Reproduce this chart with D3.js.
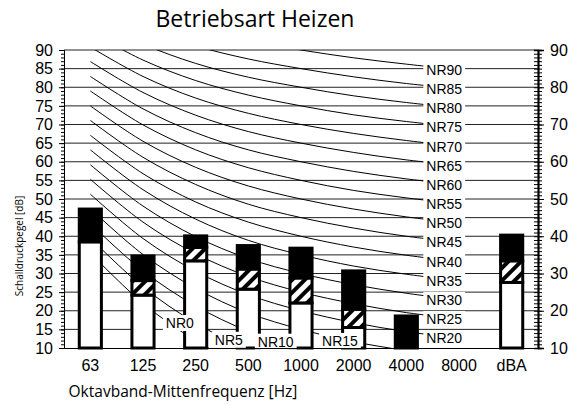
<!DOCTYPE html>
<html>
<head>
<meta charset="utf-8">
<script src="https://cdn.jsdelivr.net/npm/d3@7"></script>
<style>
  body { margin: 0; background: #fff; }
</style>
</head>
<body>
<svg width="573" height="405"></svg>
<script>
// octave bands
var categories = ["63", "125", "250", "500", "1000", "2000", "4000", "8000", "dBA"];

// bar levels in dB (white top, hatched top, black top)
var lowerLevel = [38.5, 24.2, 33.4, 25.8, 22.1, 15.5, 10, 10, 27.6];
var midLevel   = [38.5, 28.1, 37.0, 31.2, 28.8, 20.4, 10, 10, 33.4];
var upperLevel = [47.3, 34.7, 40.1, 37.5, 36.8, 30.7, 18.6, 10, 40.3];

// NR curves, 63 Hz .. 8000 Hz
var nrNames = ["NR0", "NR5", "NR10", "NR15", "NR20", "NR25", "NR30", "NR35", "NR40",
               "NR45", "NR50", "NR55", "NR60", "NR65", "NR70", "NR75", "NR80", "NR85", "NR90"];
var nrLevels = [
  [35.5, 22.0, 12.0, 4.8, 0, -3.5, -6.1, -8.0],
  [39.5, 26.4, 16.7, 9.7, 5, 1.6, -1.0, -2.9],
  [43.4, 30.7, 21.3, 14.5, 10, 6.7, 4.2, 2.3],
  [47.4, 35.1, 26.0, 19.4, 15, 11.7, 9.3, 7.5],
  [51.3, 39.4, 30.6, 24.3, 20, 16.8, 14.4, 12.6],
  [55.3, 43.8, 35.3, 29.2, 25, 21.9, 19.5, 17.8],
  [59.2, 48.1, 39.9, 34.0, 30, 27.0, 24.7, 22.9],
  [63.2, 52.5, 44.6, 38.9, 35, 32.0, 29.8, 28.1],
  [67.1, 56.8, 49.2, 43.8, 40, 37.1, 34.9, 33.2],
  [71.1, 61.2, 53.9, 48.6, 45, 42.2, 40.0, 38.4],
  [75.0, 65.5, 58.5, 53.5, 50, 47.3, 45.2, 43.5],
  [79.0, 69.9, 63.2, 58.4, 55, 52.3, 50.3, 48.7],
  [82.9, 74.2, 67.8, 63.2, 60, 57.4, 55.4, 53.8],
  [86.9, 78.6, 72.5, 68.1, 65, 62.5, 60.5, 59.0],
  [90.8, 82.9, 77.1, 73.0, 70, 67.6, 65.7, 64.1],
  [94.8, 87.3, 81.8, 77.9, 75, 72.6, 70.8, 69.3],
  [98.7, 91.6, 86.4, 82.7, 80, 77.7, 75.9, 74.4],
  [102.7, 96.0, 91.1, 87.6, 85, 82.8, 81.0, 79.6],
  [106.6, 100.3, 95.7, 92.5, 90, 87.9, 86.2, 84.7]
];
// where the labels sit: band index, and level (null = curve level at 8000 Hz)
var nrLabelBand  = [1.70, 2.63, 3.52, 4.74, 6.72, 6.72, 6.72, 6.72, 6.72, 6.72,
                    6.72, 6.72, 6.72, 6.72, 6.72, 6.72, 6.72, 6.72, 6.72];
var nrLabelLevel = [16.7, 12.2, 11.7, 11.9, null, null, null, null, null, null,
                    null, null, null, null, null, null, null, null, null];

var leftTicks = d3.range(10, 91, 5);
var rightTicks = d3.range(10, 91, 10);

var ARIAL = "'Liberation Sans', Arimo, Arial, sans-serif",
    CALIB = "'Open Sans', sans-serif";

var svg = d3.select("svg"),
    margin = {top: 50, right: 35, bottom: 57, left: 64},
    width = +svg.attr("width") - margin.left - margin.right,
    height = +svg.attr("height") - margin.top - margin.bottom;

var x = d3.scaleBand().domain(categories).range([0, width]).padding(0);
var xi = d3.scaleLinear().domain([0, 1]).range([x.bandwidth() / 2, x.bandwidth() * 1.5]);
var y = d3.scaleLinear().domain([10, 90]).range([height, 0]);

var barW = x.bandwidth() * 0.42;

var defs = svg.append("defs");
defs.append("clipPath").attr("id", "plot")
  .append("rect").attr("width", width).attr("height", height);
var pat = defs.append("pattern")
    .attr("id", "hatch")
    .attr("patternUnits", "userSpaceOnUse")
    .attr("width", 9).attr("height", 9)
    .attr("patternTransform", "rotate(45)");
pat.append("rect").attr("width", 9).attr("height", 9).attr("fill", "#fff");
pat.append("rect").attr("width", 4).attr("height", 9).attr("fill", "#000");

svg.append("text")
    .attr("x", 255).attr("y", 27)
    .attr("text-anchor", "middle")
    .attr("font-family", CALIB)
    .attr("font-size", 23)
    .text("Betriebsart Heizen");

var g = svg.append("g")
    .attr("transform", "translate(" + margin.left + "," + margin.top + ")");

// grid
g.append("g").selectAll("line")
  .data(d3.range(15, 91, 5))
  .enter().append("line")
    .attr("x1", 0).attr("x2", width)
    .attr("y1", function(d) { return y(d); })
    .attr("y2", function(d) { return y(d); })
    .attr("stroke", "#222")
    .attr("stroke-width", 1);

// NR curves
var line = d3.line()
    .x(function(d, i) { return xi(i); })
    .y(function(d) { return y(d); })
    .curve(d3.curveCatmullRom.alpha(0.5));

g.append("g")
    .attr("clip-path", "url(#plot)")
  .selectAll("path")
  .data(nrLevels)
  .enter().append("path")
    .attr("d", line)
    .attr("fill", "none")
    .attr("stroke", "#000")
    .attr("stroke-width", 1);

// bars
var bars = g.append("g").selectAll("g")
  .data(categories)
  .enter().append("g")
    .attr("transform", function(d) { return "translate(" + (x(d) + (x.bandwidth() - barW) / 2) + ",0)"; });

function segment(lo, hi, fill) {
  bars.filter(function(d, i) { return hi[i] > lo(i); })
    .append("rect")
      .attr("x", 0)
      .attr("width", barW)
      .attr("y", function(d) { var i = categories.indexOf(d); return y(hi[i]); })
      .attr("height", function(d) { var i = categories.indexOf(d); return y(lo(i)) - y(hi[i]); })
      .attr("fill", fill)
      .attr("stroke", "#000")
      .attr("stroke-width", 3);
}
segment(function() { return 10; }, lowerLevel, "#fff");
segment(function(i) { return lowerLevel[i]; }, midLevel, "url(#hatch)");
segment(function(i) { return midLevel[i]; }, upperLevel, "#000");

// NR labels with white boxes
var labels = g.append("g").selectAll("g")
  .data(nrNames)
  .enter().append("g")
    .attr("transform", function(d, i) {
      var lv = nrLabelLevel[i] == null ? nrLevels[i][7] : nrLabelLevel[i];
      return "translate(" + xi(nrLabelBand[i]) + "," + y(lv) + ")";
    });
labels.append("rect").attr("fill", "#fff");
labels.append("text")
    .attr("text-anchor", "middle")
    .attr("dy", "0.36em")
    .attr("font-family", ARIAL)
    .attr("font-size", 14)
    .text(function(d) { return d; });
labels.each(function() {
  var el = d3.select(this),
      w = el.select("text").node().getComputedTextLength() + 6;
  el.select("rect").attr("x", -w / 2).attr("y", -8).attr("width", w).attr("height", 16);
});

// axes
g.append("g")
    .call(d3.axisLeft(y).tickValues(d3.range(10, 91, 1)).tickSize(3).tickFormat(""));
var leftMajor = g.append("g")
    .call(d3.axisLeft(y).tickValues(leftTicks).tickSize(5).tickPadding(6));
leftMajor.selectAll("text").attr("font-size", 16).attr("font-family", ARIAL).attr("fill", "#000");

var rightG = g.append("g").attr("transform", "translate(" + width + ",0)");
rightG.append("g").call(d3.axisRight(y).tickValues(d3.range(10, 91, 1)).tickSize(4).tickFormat(""));
rightG.append("g").call(d3.axisLeft(y).tickValues(d3.range(10, 91, 1)).tickSize(4).tickFormat(""));
var rightMajor = rightG.append("g")
    .call(d3.axisRight(y).tickValues(rightTicks).tickSize(6).tickPadding(6));
rightMajor.selectAll("text").attr("font-size", 16).attr("font-family", ARIAL).attr("fill", "#000");
rightG.selectAll(".domain").attr("stroke-width", 1.5);

g.selectAll(".tick line").attr("stroke", "#000");

var xAxis = g.append("g")
    .attr("transform", "translate(0," + height + ")")
    .call(d3.axisBottom(x).tickSize(0).tickPadding(12));
xAxis.selectAll("text").attr("font-size", 16).attr("font-family", ARIAL).attr("fill", "#000");
xAxis.select(".domain").attr("stroke", "#000");

svg.append("text")
    .attr("x", 183).attr("y", 397)
    .attr("text-anchor", "middle")
    .attr("font-family", CALIB)
    .attr("font-size", 15.5)
    .text("Oktavband-Mittenfrequenz [Hz]");

svg.append("text")
    .attr("transform", "translate(23,246) rotate(-90)")
    .attr("text-anchor", "middle")
    .attr("font-family", CALIB)
    .attr("font-size", 10)
    .text("Schalldruckpegel [dB]");
</script>
</body>
</html>
